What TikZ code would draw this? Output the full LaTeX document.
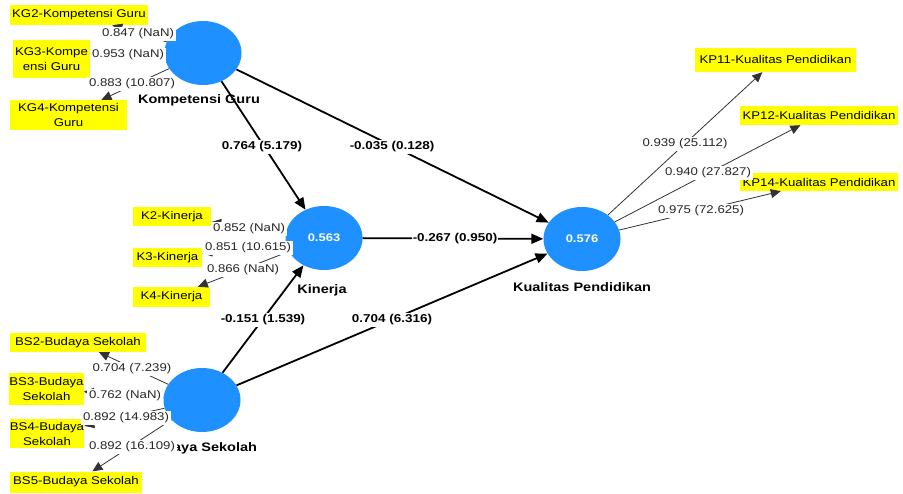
\documentclass[tikz,border=0pt]{standalone}
\usepackage{fontspec}
\setmainfont[FakeStretch=1.18]{Liberation Sans}
\usetikzlibrary{shapes.geometric,arrows.meta}
\definecolor{plsblue}{RGB}{30,144,255}
\definecolor{indyellow}{RGB}{255,255,0}
\begin{document}
\begin{tikzpicture}[x=1pt,y=-1pt,
  lv/.style={ellipse, fill=plsblue, minimum width=77pt, minimum height=64pt, inner sep=0pt, text=white, font=\bfseries\fontsize{11}{13}\selectfont},
  mv/.style={fill=indyellow, inner sep=0pt, align=center, font=\fontsize{11.2}{15}\selectfont},
  ld/.style={fill=white, inner xsep=2.2pt, inner ysep=2pt, font=\fontsize{11.2}{13}\selectfont, text=black!85},
  pc/.style={fill=white, inner sep=1.2pt, font=\bfseries\fontsize{11.4}{13}\selectfont},
  lvname/.style={font=\bfseries\fontsize{12.3}{14}\selectfont},
  sarrow/.style={-{Triangle[length=12pt,width=10pt]}, line width=1.8pt},
  iarrow/.style={-{Triangle[length=10pt,width=9pt]}, line width=0.8pt, draw=black!80}
]
\useasboundingbox[fill=white] (0,0) rectangle (903,494);

% indicators
\node[mv, minimum width=138pt, minimum height=20pt] (KG2) at (79,15) {KG2-Kompetensi Guru};
\node[mv, minimum width=77pt, minimum height=38pt] (KG3) at (51.5,59) {KG3-Kompe\\ensi Guru};
\node[mv, minimum width=117pt, minimum height=30pt] (KG4) at (68.5,115) {KG4-Kompetensi\\Guru};
\node[mv, minimum width=78pt, minimum height=19pt] (K2) at (172,216.5) {K2-Kinerja};
\node[mv, minimum width=69pt, minimum height=19pt] (K3) at (167.5,257.5) {K3-Kinerja};
\node[mv, minimum width=77pt, minimum height=20pt] (K4) at (171.5,297) {K4-Kinerja};
\node[mv, minimum width=136pt, minimum height=19pt] (BS2) at (78,342.5) {BS2-Budaya Sekolah};
\node[mv, minimum width=73pt, minimum height=32pt] (BS3) at (46.5,389) {BS3-Budaya\\Sekolah};
\node[mv, minimum width=74pt, minimum height=29pt] (BS4) at (47,434) {BS4-Budaya\\Sekolah};
\node[mv, minimum width=132pt, minimum height=21pt] (BS5) at (76,482) {BS5-Budaya Sekolah};
\node[mv, minimum width=161pt, minimum height=24pt] (KP11) at (775.5,60) {KP11-Kualitas Pendidikan};
\node[mv, minimum width=158pt, minimum height=19pt] (KP12) at (819,115.5) {KP12-Kualitas Pendidikan};
\node[mv, minimum width=158pt, minimum height=18pt] (KP14) at (819,182) {KP14-Kualitas Pendidikan};

% latent variables
\node[lv] (KG) at (203,53) {};
\node[lv] (KIN) at (324,238) {0.563};
\node[lv] (KP) at (582,239) {0.576};
\node[lv] (BS) at (202,400) {};

% names
\node[lvname] (nKG) at (199,100) {Kompetensi Guru};
\node[lvname] (nKIN) at (322,290) {Kinerja};
\node[lvname] (nKP) at (582,287) {Kualitas Pendidikan};
\node[lvname] (nBS) at (201,448) {Budaya Sekolah};

% indicator arrows
\foreach \t in {KG2,KG3,KG4} \draw[iarrow] (KG) -- (\t);
\foreach \t in {K2,K3,K4} \draw[iarrow] (KIN) -- (\t);
\foreach \t in {BS2,BS3,BS4,BS5} \draw[iarrow] (BS) -- (\t);
\foreach \t in {KP11,KP12,KP14} \draw[iarrow] (KP) -- (\t);

% structural arrows
\draw[sarrow] (KG) -- (KIN);
\draw[sarrow] (KG) -- (KP);
\draw[sarrow] (KIN) -- (KP);
\draw[sarrow] (BS) -- (KIN);
\draw[sarrow] (BS) -- (KP);

% path coefficients
\node[pc] (p1) at (262,147) {0.764 (5.179)};
\node[pc] (p2) at (392,147) {-0.035 (0.128)};
\node[pc] (p3) at (455,239) {-0.267 (0.950)};
\node[pc] (p4) at (263,320) {-0.151 (1.539)};
\node[pc] (p5) at (392,320) {0.704 (6.316)};

% loadings
\node[ld] (l1) at (138,34) {0.847 (NaN)};
\node[ld] (l2) at (128,55) {0.953 (NaN)};
\node[ld] (l3) at (132,84) {0.883 (10.807)};
\node[ld] (l4) at (249,229) {0.852 (NaN)};
\node[ld] (l5) at (248,248) {0.851 (10.615)};
\node[ld] (l6) at (243,270) {0.866 (NaN)};
\node[ld] (l7) at (132,369) {0.704 (7.239)};
\node[ld] (l8) at (125,396) {0.762 (NaN)};
\node[ld] (l9) at (126,418) {0.892 (14.983)};
\node[ld] (l10) at (132,447) {0.892 (16.109)};
\node[ld] (l11) at (685,144) {0.939 (25.112)};
\node[ld] (l12) at (708,173) {0.940 (27.827)};
\node[ld] (l13) at (701,211) {0.975 (72.625)};
\end{tikzpicture}
\end{document}
